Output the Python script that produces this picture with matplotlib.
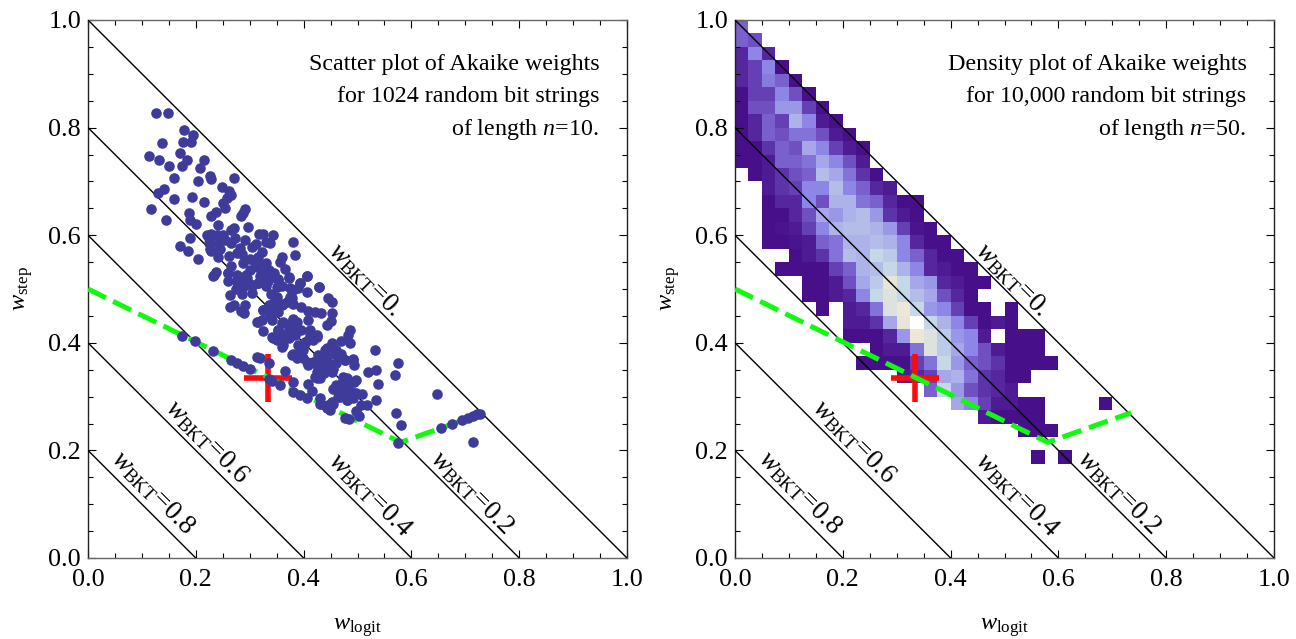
import numpy as np
import matplotlib
matplotlib.use("Agg")
import matplotlib.pyplot as plt
from matplotlib.colors import LinearSegmentedColormap
from matplotlib.ticker import MultipleLocator

plt.rcParams['font.family'] = ['Liberation Serif', 'DejaVu Serif']
plt.rcParams['mathtext.fontset'] = 'custom'
plt.rcParams['mathtext.rm'] = 'Liberation Serif'
plt.rcParams['mathtext.it'] = 'Liberation Serif:italic'
plt.rcParams['mathtext.bf'] = 'Liberation Serif:bold'

# scatter panel
scatter_x = [.127,.148,.178,.195,.138,.177,.192,.114,.170,.132,.184,.216,.150,.174,.208,.159,.205,.226,.229,.271,
             .248,.262,.141,.129,.159,.193,.215,.265,.257,.251,.255,.116,.291,.287,.284,.237,.228,.187,.189,.145,
             .201,.242,.296,.271,.266,.344,.318,.324,.189,.221,.229,.224,.250,.254,.273,.291,.331,.337,.380,.242,
             .171,.186,.226,.229,.282,.277,.311,.305,.384,.242,.262,.205,.360,.356,.322,.316,.310,.288,.330,.313,
             .266,.260,.237,.232,.366,.300,.328,.407,.276,.294,.372,.353,.334,.316,.276,.300,.285,.393,.429,
             .234,.260,.276,.288,.263,.304,.316,.334,.353,.372,.351,.407,.393,.381,.407,.428,.446,.452,.263,.291,
             .283,.350,.375,.347,.335,.325,.341,.362,.381,.396,.409,.421,.433,.452,.338,.316,.325,.359,.381,.409,
             .450,.443,.372,.353,.412,.424,.486,.483,.344,.362,.375,.359,.402,.393,.418,.470,.486,.452,.443,.461,
             .532,.381,.390,.406,.430,.440,.470,.477,.491,.493,.576,.313,.319,.335,.424,.446,.455,.430,.520,.534,
             .569,.365,.424,.473,.498,.494,.538,.461,.455,.473,.489,.509,.648,.467,.480,.534,.507,.518,.497,.502,
             .572,.580,.715,
             .175,.198,.232,.265,.276,.288,.300,.335,.341,.357,.380,.409,.416,.381,.393,.406,.430,.430,.443,.449,
             .455,.477,.485,.576,.654,.676,.693,.705,.715,.722,.728,
             .325,.338,.347,.359,.338,.353,.369,.378,.322,.341,.313,.362,.372,.381,.387,.375,.390,.341,.353,.365,
             .378,.350,.362,.372,.384,.390,.403,.399,.412,.424,.409,.396,.440,.452,.427,.443,.458,.418,.433,.449,
             .461,.409,.424,.437,.452,.430,.421,.443,.467,.477,.492,.458,.474,.483,.470,.486,.464,.480,.492,.498,
             .480,.378,.387,.399,.409,.433,.446,.452,
             .240,.225,.245,.265,.285,.300,.315,.295,.305,.320,.335,.345,.360,.340,.330,.260,.275,.285,.270,.290]
scatter_y = [.828,.828,.795,.786,.771,.773,.773,.748,.753,.740,.740,.740,.729,.728,.724,.706,.701,.710,.704,.707,
             .690,.683,.685,.678,.668,.671,.662,.674,.670,.660,.650,.649,.649,.642,.636,.644,.636,.642,.628,.629,
             .620,.619,.616,.614,.610,.600,.603,.602,.595,.601,.603,.595,.601,.591,.594,.591,.588,.585,.587,.585,
             .580,.570,.575,.571,.577,.567,.583,.578,.563,.560,.562,.555,.559,.551,.569,.560,.551,.548,.548,.541,
             .543,.530,.532,.524,.538,.535,.531,.525,.526,.526,.520,.519,.517,.512,.513,.510,.512,.512,.504,
             .526,.529,.517,.504,.489,.492,.512,.514,.517,.522,.504,.525,.511,.499,.494,.503,.483,.475,.467,.471,
             .460,.486,.486,.473,.470,.461,.461,.473,.473,.467,.460,.458,.456,.455,.452,.439,.422,.436,.442,.442,
             .441,.433,.433,.424,.424,.414,.424,.414,.408,.411,.414,.393,.402,.393,.405,.403,.400,.400,.390,.387,
             .387,.380,.373,.365,.374,.380,.380,.368,.369,.359,.362,.374,.372,.363,.359,.359,.352,.346,.346,.349,
             .341,.347,.334,.337,.331,.328,.323,.321,.315,.315,.309,.305,.305,.300,.294,.293,.285,.284,.273,.264,
             .269,.247,.216,
             .413,.403,.385,.368,.362,.357,.351,.333,.329,.321,.328,.323,.310,.309,.303,.297,.297,.287,.278,.276,
             .287,.261,.258,.213,.241,.249,.256,.261,.264,.267,.268,
             .461,.470,.483,.470,.455,.458,.476,.483,.442,.442,.439,.439,.430,.445,.439,.501,.501,.411,.424,.417,
             .427,.405,.396,.408,.414,.396,.399,.386,.417,.411,.405,.424,.386,.396,.377,.371,.380,.365,.362,.359,
             .362,.362,.346,.343,.346,.334,.337,.349,.371,.368,.368,.315,.331,.321,.309,.306,.300,.293,.297,.306,
             .334,.377,.371,.371,.359,.287,.284,.290,
             .600,.585,.575,.585,.565,.555,.545,.520,.505,.525,.535,.530,.505,.490,.505,.515,.500,.490,.470,.455]

# density panel: one list per bin row from the top, first_col is the first filled bin
first_col = [0,0,0,0,0,0,0,0,0,0,0,1,2,2,2,2,2,4,3,5,5,6,8,8,10,9,12,14,16,18,21,0,22]
density_rows = [
    [4],
    [4,3.5],
    [2,5,2],
    [2,3,5,1],
    [2,3,4.7,4,1],
    [1,3,3,5,3.5,1],
    [1,3.5,3.5,5.5,5.5,3,1],
    [1,2,4,3,6.5,5,1.5,1],
    [1,2,4,3.5,4.5,4.5,3.5,1.5,1],
    [1,1,2.5,4,3.5,6,5,3,1.5,1],
    [1,1,1.5,4,4,4.5,6,5,3.5,1.5],
    [1,1.5,2.5,3.5,4,7,6,4.5,2.5,1],
    [1.5,2.5,3,5,5,7,5,4,2,1.5],
    [1,2,2,5,3.5,6.5,6.5,4.5,4,2,1,1],
    [1,1,2,3.5,6,5.5,6.5,7,5.5,2.5,1.5,1],
    [1,1.2,1.5,3,5,6.5,7,7,6.5,5.5,3,1.2,1],
    [1,1,1.2,1.5,4,4.5,6.5,6.5,7,6.5,5,2,1,1],
    [1,1.5,2.5,4.5,7,6.5,8,7.5,5,4,2,1,1],
    [1,1,1,1,3,4,6.5,7,8,6.5,5,2,1.5,1,1],
    [1,1,1.5,3.5,6,7.5,9,8,6,5.5,2,1.5,1,1],
    [1,1,1.5,2,5,8,8.5,8,7,6,3.5,2,1],
    [1,0,1.5,2,4.5,8.5,9.5,8,5.5,5,3,1,1,0,1],
    [1.5,1.5,2.5,6,9,10,8,6.5,5,3,1,1.5,1],
    [1,1,1,2,5.5,9.5,8.5,7.5,5.5,5,1.5,0,1,1,1],
    [1,1.5,1.5,4.5,8.5,7.5,6,5,3.5,1.5,1,1,1],
    [1,1,1,1,3,4.5,8,5.5,4,3.5,2.5,1,1,1,1],
    [1.5,2,3,6,6.5,4.5,2.5,2,1,1],
    [4,8,5.5,3.5,2.5,2,1.5],
    [6,5,3,1.5,1.5,1,1,0,0,0,0,1],
    [1.5,1,1,1,1],
    [1,1,1],
    [],
    [1,0,1],
]

level_stops = [1,2,3,4,5,6,7,8,8.5,9,9.5,10]
level_colors = ['#47108a','#56269f','#6540b5','#7a60cc','#8d86e6','#a6a6e8','#b3bde8','#c4d8e8',
                '#dde2e0','#e8e4d8','#eee6d6','#ffffff']

# dashed curve and the lines of constant w_BKT
green_x = [0.0,0.58,0.735]
green_y = [0.5,0.215,0.27]
cross_x = [0.334]
cross_y = [0.335]
bkt_sums = [1.0,0.8,0.6,0.4,0.2]
bkt_labels = ['0.','0.2','0.4','0.6','0.8']
label_x = [.514,.712,.523,.221,.121]
label_y = [.517,.121,.117,.217,.121]

note_left = ['Scatter plot of Akaike weights','for 1024 random bit strings','of length $n$=10.']
note_right = ['Density plot of Akaike weights','for 10,000 random bit strings','of length $n$=50.']
note_y = [.918,.858,.797]


def setup_axes(ax,note):
    ax.set_xlim(0,1)
    ax.set_ylim(0,1)
    for name,s in ax.spines.items():
        s.set_linewidth(1.0)
        s.set_color('#222222' if name in ('left','right') else '#666666')
    ax.xaxis.set_major_locator(MultipleLocator(0.2))
    ax.yaxis.set_major_locator(MultipleLocator(0.2))
    ax.xaxis.set_minor_locator(MultipleLocator(0.05))
    ax.yaxis.set_minor_locator(MultipleLocator(0.05))
    ax.tick_params(which='major',direction='in',top=True,right=True,length=6,width=0.8,labelsize=18.8)
    ax.tick_params(which='minor',direction='in',top=True,right=True,length=3.5,width=0.8)
    ax.tick_params(axis='x',which='major',pad=8)
    ax.tick_params(axis='y',which='major',pad=5)
    ax.xaxis.set_major_formatter(lambda v,p: '%.1f'%abs(v))
    ax.yaxis.set_major_formatter(lambda v,p: '%.1f'%abs(v))
    ax.set_xlabel(r'$w_{\mathrm{logit}}$',fontsize=17.5)
    ax.set_ylabel(r'$w_{\mathrm{step}}$',fontsize=17.5)
    ax.xaxis.set_label_coords(0.5,-0.108)
    ax.yaxis.set_label_coords(-0.098,0.5)
    for b in bkt_sums:
        ax.plot([0,b],[b,0],color='black',lw=1.0,zorder=3)
    for lab,x,y in zip(bkt_labels,label_x,label_y):
        ax.text(x,y,r'$w_{\mathrm{BKT}}$='+lab,rotation=-45,rotation_mode='anchor',
                ha='center',va='center',fontsize=19.5,zorder=6)
    for line,y in zip(note,note_y):
        ax.text(.949,y,line,ha='right',va='center',fontsize=17.3,zorder=6)
    ax.plot(cross_x,cross_y,marker='+',ms=34,mew=4.0,color='#ff0a0a',ls='none',zorder=4)
    ax.plot(green_x,green_y,color='#10fa10',lw=3.6,dashes=(4.0,1.6),zorder=5)


fig=plt.figure(figsize=(12.96,6.39),dpi=100)
ax1=fig.add_axes([88/1296,(639-558)/639,539/1296,538/639])
ax2=fig.add_axes([735/1296,(639-558)/639,539/1296,538/639])

setup_axes(ax1,note_left)
ax1.scatter(scatter_x,scatter_y,s=58,color='#3f3b9b',linewidths=0,zorder=7)

grid=np.zeros((40,40))
for r,(c0,vals) in enumerate(zip(first_col,density_rows)):
    for k,v in enumerate(vals):
        grid[39-r,c0+k]=v
cmap=LinearSegmentedColormap.from_list('akaike',[((s-1)/9,c) for s,c in zip(level_stops,level_colors)])
edges=np.linspace(0,1,41)
setup_axes(ax2,note_right)
ax2.pcolormesh(edges,edges,np.ma.masked_equal(grid,0),cmap=cmap,vmin=1,vmax=10,zorder=1)

fig.savefig('out.png',dpi=100)
